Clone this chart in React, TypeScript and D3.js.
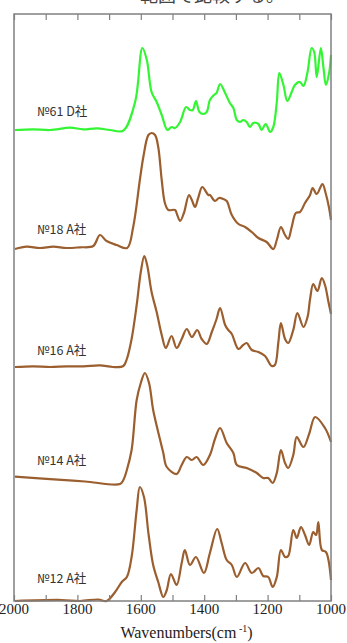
import React, { useRef, useEffect } from 'react';
import * as d3 from 'd3';

// wavenumber (cm-1), intensity above each sample's own baseline (a.u.)
const sample61 = [
  [1997, 0], [1940, 0.7], [1886, 0], [1823, 2.3], [1782, 0.7], [1738, 1.7], [1697, 0], [1656, -0.7],
  [1618, 28], [1595, 82], [1581, 70], [1566, 38], [1550, 28], [1534, 15], [1516, 0], [1503, 3],
  [1492, 2], [1476, 8], [1457, 23], [1445, 20], [1436, 20], [1426, 29], [1415, 18], [1403, 16],
  [1392, 18], [1382, 30], [1369, 35], [1361, 37], [1350, 46], [1334, 37], [1319, 27], [1308, 22],
  [1297, 10], [1287, 8], [1277, 10], [1266, 8], [1256, 3], [1245, 7], [1229, 6], [1219, 0],
  [1206, 6], [1192, -2], [1182, 3], [1171, 28], [1163, 57], [1150, 45], [1138, 29], [1124, 38],
  [1114, 45], [1098, 48], [1087, 44], [1074, 58], [1061, 82], [1053, 78], [1045, 53], [1032, 82],
  [1024, 63], [1016, 45], [1006, 57], [1000, 75],
];

const sample18 = [
  [1997, -1], [1960, 1.3], [1918, 0], [1876, 1.3], [1834, 0], [1792, 0.7], [1750, 2], [1729, 13],
  [1708, 7], [1676, 3], [1643, 0], [1624, 21], [1603, 68], [1592, 91], [1576, 113], [1566, 115],
  [1555, 113], [1545, 101], [1534, 68], [1524, 45], [1513, 38], [1492, 38], [1485, 33], [1476, 27],
  [1464, 35], [1448, 53], [1439, 48], [1429, 41], [1419, 50], [1406, 61], [1387, 53], [1382, 53],
  [1366, 47], [1353, 50], [1340, 49], [1329, 47], [1313, 33], [1292, 24], [1271, 21], [1250, 16],
  [1229, 10], [1203, 6], [1182, -1], [1171, 8], [1158, 21], [1145, 13], [1135, 9], [1124, 21],
  [1111, 35], [1098, 36], [1082, 45], [1066, 53], [1058, 60], [1045, 54], [1027, 64], [1017, 55],
  [1006, 40], [1000, 28],
];

const sample16 = [
  [1997, 0], [1940, 0.7], [1886, 0], [1834, 0.7], [1781, 0.7], [1729, 1.7], [1688, 0], [1655, 1],
  [1644, 8], [1629, 28], [1613, 62], [1600, 95], [1589, 111], [1580, 102], [1566, 75], [1550, 55],
  [1534, 32], [1521, 19], [1503, 31], [1487, 19], [1471, 28], [1455, 38], [1439, 30], [1422, 37],
  [1408, 28], [1392, 23], [1376, 35], [1361, 48], [1350, 59], [1334, 42], [1324, 37], [1313, 33],
  [1292, 18], [1277, 22], [1266, 24], [1250, 17], [1229, 15], [1208, 11], [1187, 1], [1177, 2],
  [1166, 25], [1158, 44], [1145, 28], [1135, 24], [1119, 37], [1106, 54], [1087, 40], [1074, 50],
  [1066, 68], [1056, 83], [1043, 76], [1029, 89], [1019, 82], [1008, 65], [1000, 53],
];

const sample14 = [
  [1997, 7.3], [1886, 4.9], [1776, 2.5], [1666, 0], [1655, 4], [1644, 14], [1629, 34], [1613, 84],
  [1600, 101], [1587, 111], [1574, 101], [1561, 74], [1539, 44], [1529, 31], [1518, 17], [1487, 10],
  [1471, 19], [1455, 27], [1439, 24], [1424, 27], [1403, 19], [1382, 29], [1366, 45], [1350, 56],
  [1329, 41], [1308, 31], [1297, 19], [1266, 16], [1234, 11], [1214, 6], [1198, 6], [1184, 1],
  [1171, 11], [1158, 34], [1145, 21], [1135, 16], [1119, 29], [1108, 47], [1087, 37], [1069, 50],
  [1050, 67], [1019, 56], [1000, 42],
];

const sample12 = [
  [1997, 0], [1850, 1], [1792, 0], [1734, 1.5], [1708, 0], [1681, 9], [1660, 19], [1644, 24],
  [1629, 44], [1613, 91], [1603, 114], [1590, 104], [1576, 68], [1561, 36], [1545, 19], [1529, 4],
  [1518, 11], [1505, 27], [1487, 16], [1471, 38], [1461, 51], [1445, 36], [1426, 44], [1401, 28],
  [1382, 48], [1359, 72], [1345, 58], [1329, 41], [1313, 36], [1297, 24], [1271, 38], [1250, 28],
  [1229, 33], [1214, 25], [1198, 24], [1184, 14], [1171, 24], [1158, 51], [1145, 44], [1135, 45],
  [1119, 71], [1108, 63], [1095, 74], [1082, 66], [1069, 56], [1056, 69], [1047, 66], [1040, 79],
  [1029, 51], [1016, 49], [1000, 21],
];

const sampleNames = ['№61 D社', '№18 A社', '№16 A社', '№14 A社', '№12 A社'];
const sampleData = [sample61, sample18, sample16, sample14, sample12];
const sampleOffsets = [471, 353, 234, 117, 0];
const labelLevels = [485, 367, 246, 136, 18];
const sampleColors = ['#33f533', '#9b5e2e', '#9b5e2e', '#9b5e2e', '#9b5e2e'];

const xTicks = d3.range(1000, 2001, 100);
const xLabels = [2000, 1800, 1600, 1400, 1200, 1000];

const App = () => {
  const svgRef = useRef<SVGSVGElement>(null);
  const width = 347;
  const height = 643;

  useEffect(() => {
    const margin = { top: 14, right: 16, bottom: 42, left: 14 };
    const innerWidth = width - margin.left - margin.right;
    const innerHeight = height - margin.top - margin.bottom;

    const root = d3.select(svgRef.current);
    root.selectAll('*').remove();

    // caption line of the page above, cut off by the crop
    root.append('text')
      .attr('x', 140)
      .attr('y', 2)
      .style('font-family', '"Noto Sans CJK JP", sans-serif')
      .style('font-size', '18px')
      .style('fill', '#444')
      .text('範囲で比較する。');

    const svg = root.append('g')
      .attr('transform', `translate(${margin.left}, ${margin.top})`);

    const xScale = d3.scaleLinear().domain([2000, 1000]).range([0, innerWidth]);
    const yScale = d3.scaleLinear().domain([0, innerHeight]).range([innerHeight, 0]);

    const line = d3.line<number[]>()
      .x(d => xScale(d[0]))
      .y(d => d[1])
      .curve(d3.curveCatmullRom.alpha(0.5));

    sampleData.forEach((series, i) => {
      const pts = series.map(d => [d[0], yScale(d[1] + sampleOffsets[i])]);
      svg.append('path')
        .attr('d', line(pts))
        .style('fill', 'none')
        .style('stroke', sampleColors[i])
        .style('stroke-width', 2.2)
        .style('stroke-linejoin', 'round');

      svg.append('text')
        .attr('x', 23)
        .attr('y', yScale(labelLevels[i]))
        .style('font-family', '"Noto Sans CJK JP", sans-serif')
        .style('font-size', '12.5px')
        .style('fill', '#333')
        .text(sampleNames[i]);
    });

    // frame
    svg.append('rect')
      .attr('width', innerWidth)
      .attr('height', innerHeight)
      .style('fill', 'none')
      .style('stroke', '#808080')
      .style('stroke-width', 1.5);

    const axisBottom = svg.append('g')
      .attr('transform', `translate(0, ${innerHeight})`)
      .call(d3.axisBottom(xScale).tickValues(xTicks).tickSize(-6).tickFormat(() => ''));
    axisBottom.select('.domain').remove();
    axisBottom.selectAll('line').style('stroke', '#808080').style('stroke-width', 1.2);

    const axisTop = svg.append('g')
      .call(d3.axisTop(xScale).tickValues(xTicks).tickSize(-6).tickFormat(() => ''));
    axisTop.select('.domain').remove();
    axisTop.selectAll('line').style('stroke', '#808080').style('stroke-width', 1.2);

    svg.selectAll('.xlabel')
      .data(xLabels)
      .enter()
      .append('text')
      .attr('class', 'xlabel')
      .attr('x', d => xScale(d))
      .attr('y', innerHeight + 13)
      .attr('text-anchor', 'middle')
      .style('font-family', '"Liberation Serif", serif')
      .style('font-size', '15px')
      .style('fill', '#222')
      .text(d => d);

    const title = svg.append('text')
      .attr('x', innerWidth / 2 + 14)
      .attr('y', innerHeight + 37)
      .attr('text-anchor', 'middle')
      .style('font-family', '"Liberation Serif", serif')
      .style('font-size', '16px')
      .style('fill', '#222');
    title.append('tspan').text('Wavenumbers(cm');
    title.append('tspan').attr('dy', -6).style('font-size', '10px').text(' -1');
    title.append('tspan').attr('dy', 6).text(')');
  }, []);

  return (
    <svg ref={svgRef} width={width} height={height}
      style={{ position: 'absolute', left: 0, top: 0, background: '#fff' }} />
  );
};

export default App;
